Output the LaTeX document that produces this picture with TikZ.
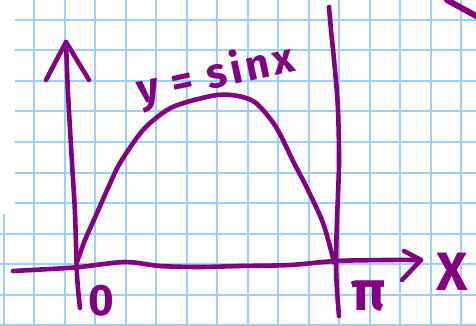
\documentclass[tikz,border=0pt]{standalone}
\usepackage{fontspec}
\newfontfamily\handfont{Fira Sans}
\newfontfamily\handwide[LetterSpace=9]{Fira Sans}
\usepackage{tikz}
\usetikzlibrary{calc}
\usepackage{xcolor}
\definecolor{penpurple}{RGB}{128,0,128}
\definecolor{gridblue}{RGB}{158,206,255}

\begin{document}
\begin{tikzpicture}[
    x=0.5pt, y=-0.5pt,
    gridline/.style={gridblue, line width=1pt},
    pen/.style={penpurple, line width=2.3pt, line cap=round, line join=round},
    handtext/.style={penpurple, inner sep=0pt, font=\handfont\bfseries\fontsize{20}{20}\selectfont}
]
\useasboundingbox[fill=white] (0,0) rectangle (476,326);

% paper grid
\foreach \gx in {0,...,14}
    \draw[gridline] ({34+30.5*\gx},0) -- ({34+30.5*\gx},326);
\foreach \gy in {0,...,6}
    \draw[gridline] (15,{20+30.5*\gy}) -- (476,{20+30.5*\gy});
\foreach \gy in {7,...,10}
    \draw[gridline] (0,{20+30.5*\gy}) -- (476,{20+30.5*\gy});
\draw[gridline] (4,214) -- (4,326);

% axes
\draw[pen] plot[smooth] coordinates {(80,308) (77,275) (75,213) (72,163) (68,93) (66,42)};
\draw[pen] (46,80) -- (66,42) -- (89,80);
\draw[pen] plot[smooth] coordinates {(13,271) (50,269) (80,267) (125,262) (160,266) (200,267) (240,266) (290,265) (336,261) (386,260) (421,260)};
\draw[pen] (404,251) -- (421,260) -- (402,280);

% line at pi
\draw[pen] plot[smooth] coordinates {(329,7) (331,30) (335,70) (338,110) (339,163) (337,220) (336,262) (337,290) (339,316)};

% the arch
\draw[pen] plot[smooth] coordinates {(77,262) (85,240) (97,213) (108,188) (120,163) (143,130) (167,110) (187,102) (217,95) (238,96) (256,103) (276,127) (294,163) (306,186) (323,223) (334,262)};

% stroke in the corner
\draw[pen, line width=3pt] (447,0) -- (478,17);

\node[handtext, rotate=12, font=\handwide\bfseries\fontsize{21}{21}\selectfont] (eq) at (216,76) {y = sinx};
\node[handtext, font=\handfont\bfseries\fontsize{22}{22}\selectfont] (zero) at (101,301) {0};
\node[handtext, font=\handfont\bfseries\fontsize{28}{28}\selectfont] (piLabel) at (369,296) {π};
\node[handtext, font=\handfont\bfseries\fontsize{27}{27}\selectfont] (xLabel) at (452,272) {X};
\end{tikzpicture}
\end{document}
